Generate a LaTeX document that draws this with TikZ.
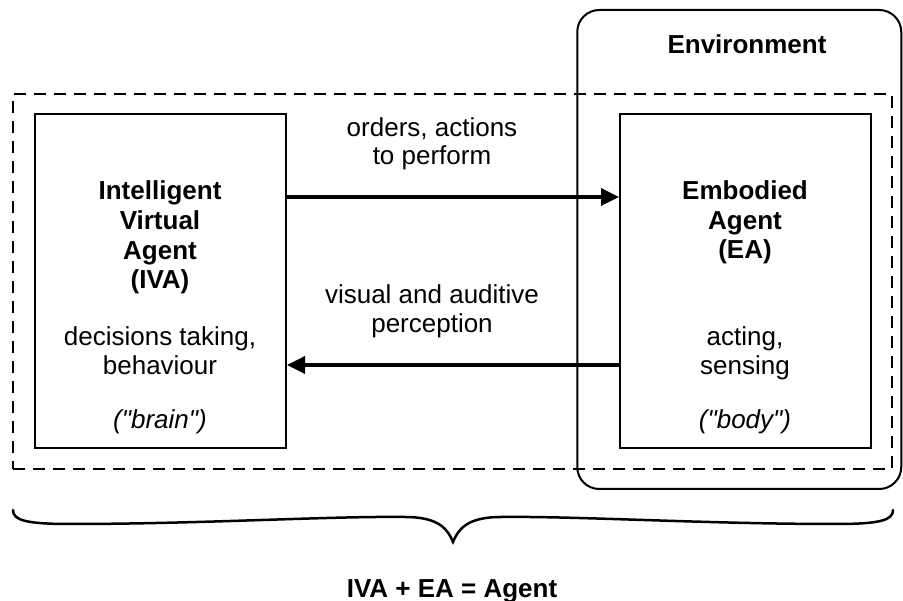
\documentclass[tikz,border=0pt]{standalone}
\usepackage{fontspec}
\setmainfont[Ligatures=TeXOff]{Liberation Sans}
\usetikzlibrary{arrows.meta}
\begin{document}
\begin{tikzpicture}[x=1pt,y=-1pt,
  box/.style={draw,line width=2pt,minimum width=251pt,minimum height=334pt,inner sep=0pt},
  txt/.style={anchor=base,inner sep=0pt,font=\fontsize{26}{30}\selectfont},
  btxt/.style={anchor=base,inner sep=0pt,font=\fontsize{26}{30}\selectfont\bfseries},
  itxt/.style={anchor=base,inner sep=0pt,font=\fontsize{26}{30}\selectfont\itshape},
  arr/.style={line width=3.5pt,-{Triangle[length=18pt,width=17pt]}}]
\useasboundingbox (0,0) rectangle (903,601);
% environment and agent frame
\node[draw,line width=2pt,rounded corners=22pt,minimum width=324pt,minimum height=479pt,inner sep=0pt] (env) at (739.25,249.5) {};
\node[draw,line width=2pt,dash pattern=on 12pt off 8pt,minimum width=879pt,minimum height=375pt,inner sep=0pt] (agentframe) at (452.5,281.5) {};
% boxes
\node[box,fill=white] (lb) at (160.5,281) {};
\node[box,fill=white] (rb) at (745.5,281) {};
% arrows
\draw[arr] ([yshift=84pt]lb.east) -- ([yshift=84pt]rb.west);
\draw[arr] ([yshift=-84pt]rb.west) -- ([yshift=-84pt]lb.east);
% texts
\node[btxt] (envt) at (747,54) {Environment};
\node[btxt] (l1) at (160,200) {Intelligent};
\node[btxt] (l2) at (160,230) {Virtual};
\node[btxt] (l3) at (160,260) {Agent};
\node[btxt] (l4) at (160,289) {(IVA)};
\node[txt] (l5) at (160,346) {decisions taking,};
\node[txt] (l6) at (160,375) {behaviour};
\node[itxt] (l7) at (160,429) {("brain")};
\node[btxt] (r1) at (745,200) {Embodied};
\node[btxt] (r2) at (745,230) {Agent};
\node[btxt] (r3) at (745,259) {(EA)};
\node[txt] (r4) at (745,346) {acting,};
\node[txt] (r5) at (745,375) {sensing};
\node[itxt] (r6) at (745,429) {("body")};
\node[txt] (o1) at (432,137) {orders, actions};
\node[txt] (o2) at (432,165) {to perform};
\node[txt] (p1) at (432,304) {visual and auditive};
\node[txt] (p2) at (432,333) {perception};
% brace
\draw[line width=2.5pt,line cap=round]
  (13,510) .. controls (13,520) and (25,524) .. (70,524)
  .. controls (200,524) and (330,516) .. (405,517)
  .. controls (440,517) and (448,530) .. (453,542)
  .. controls (458,530) and (466,517) .. (501,517)
  .. controls (576,516) and (706,524) .. (836,524)
  .. controls (881,524) and (893,520) .. (893,510);
\node[btxt] (sum) at (452,597) {IVA + EA = Agent};
\end{tikzpicture}
\end{document}
